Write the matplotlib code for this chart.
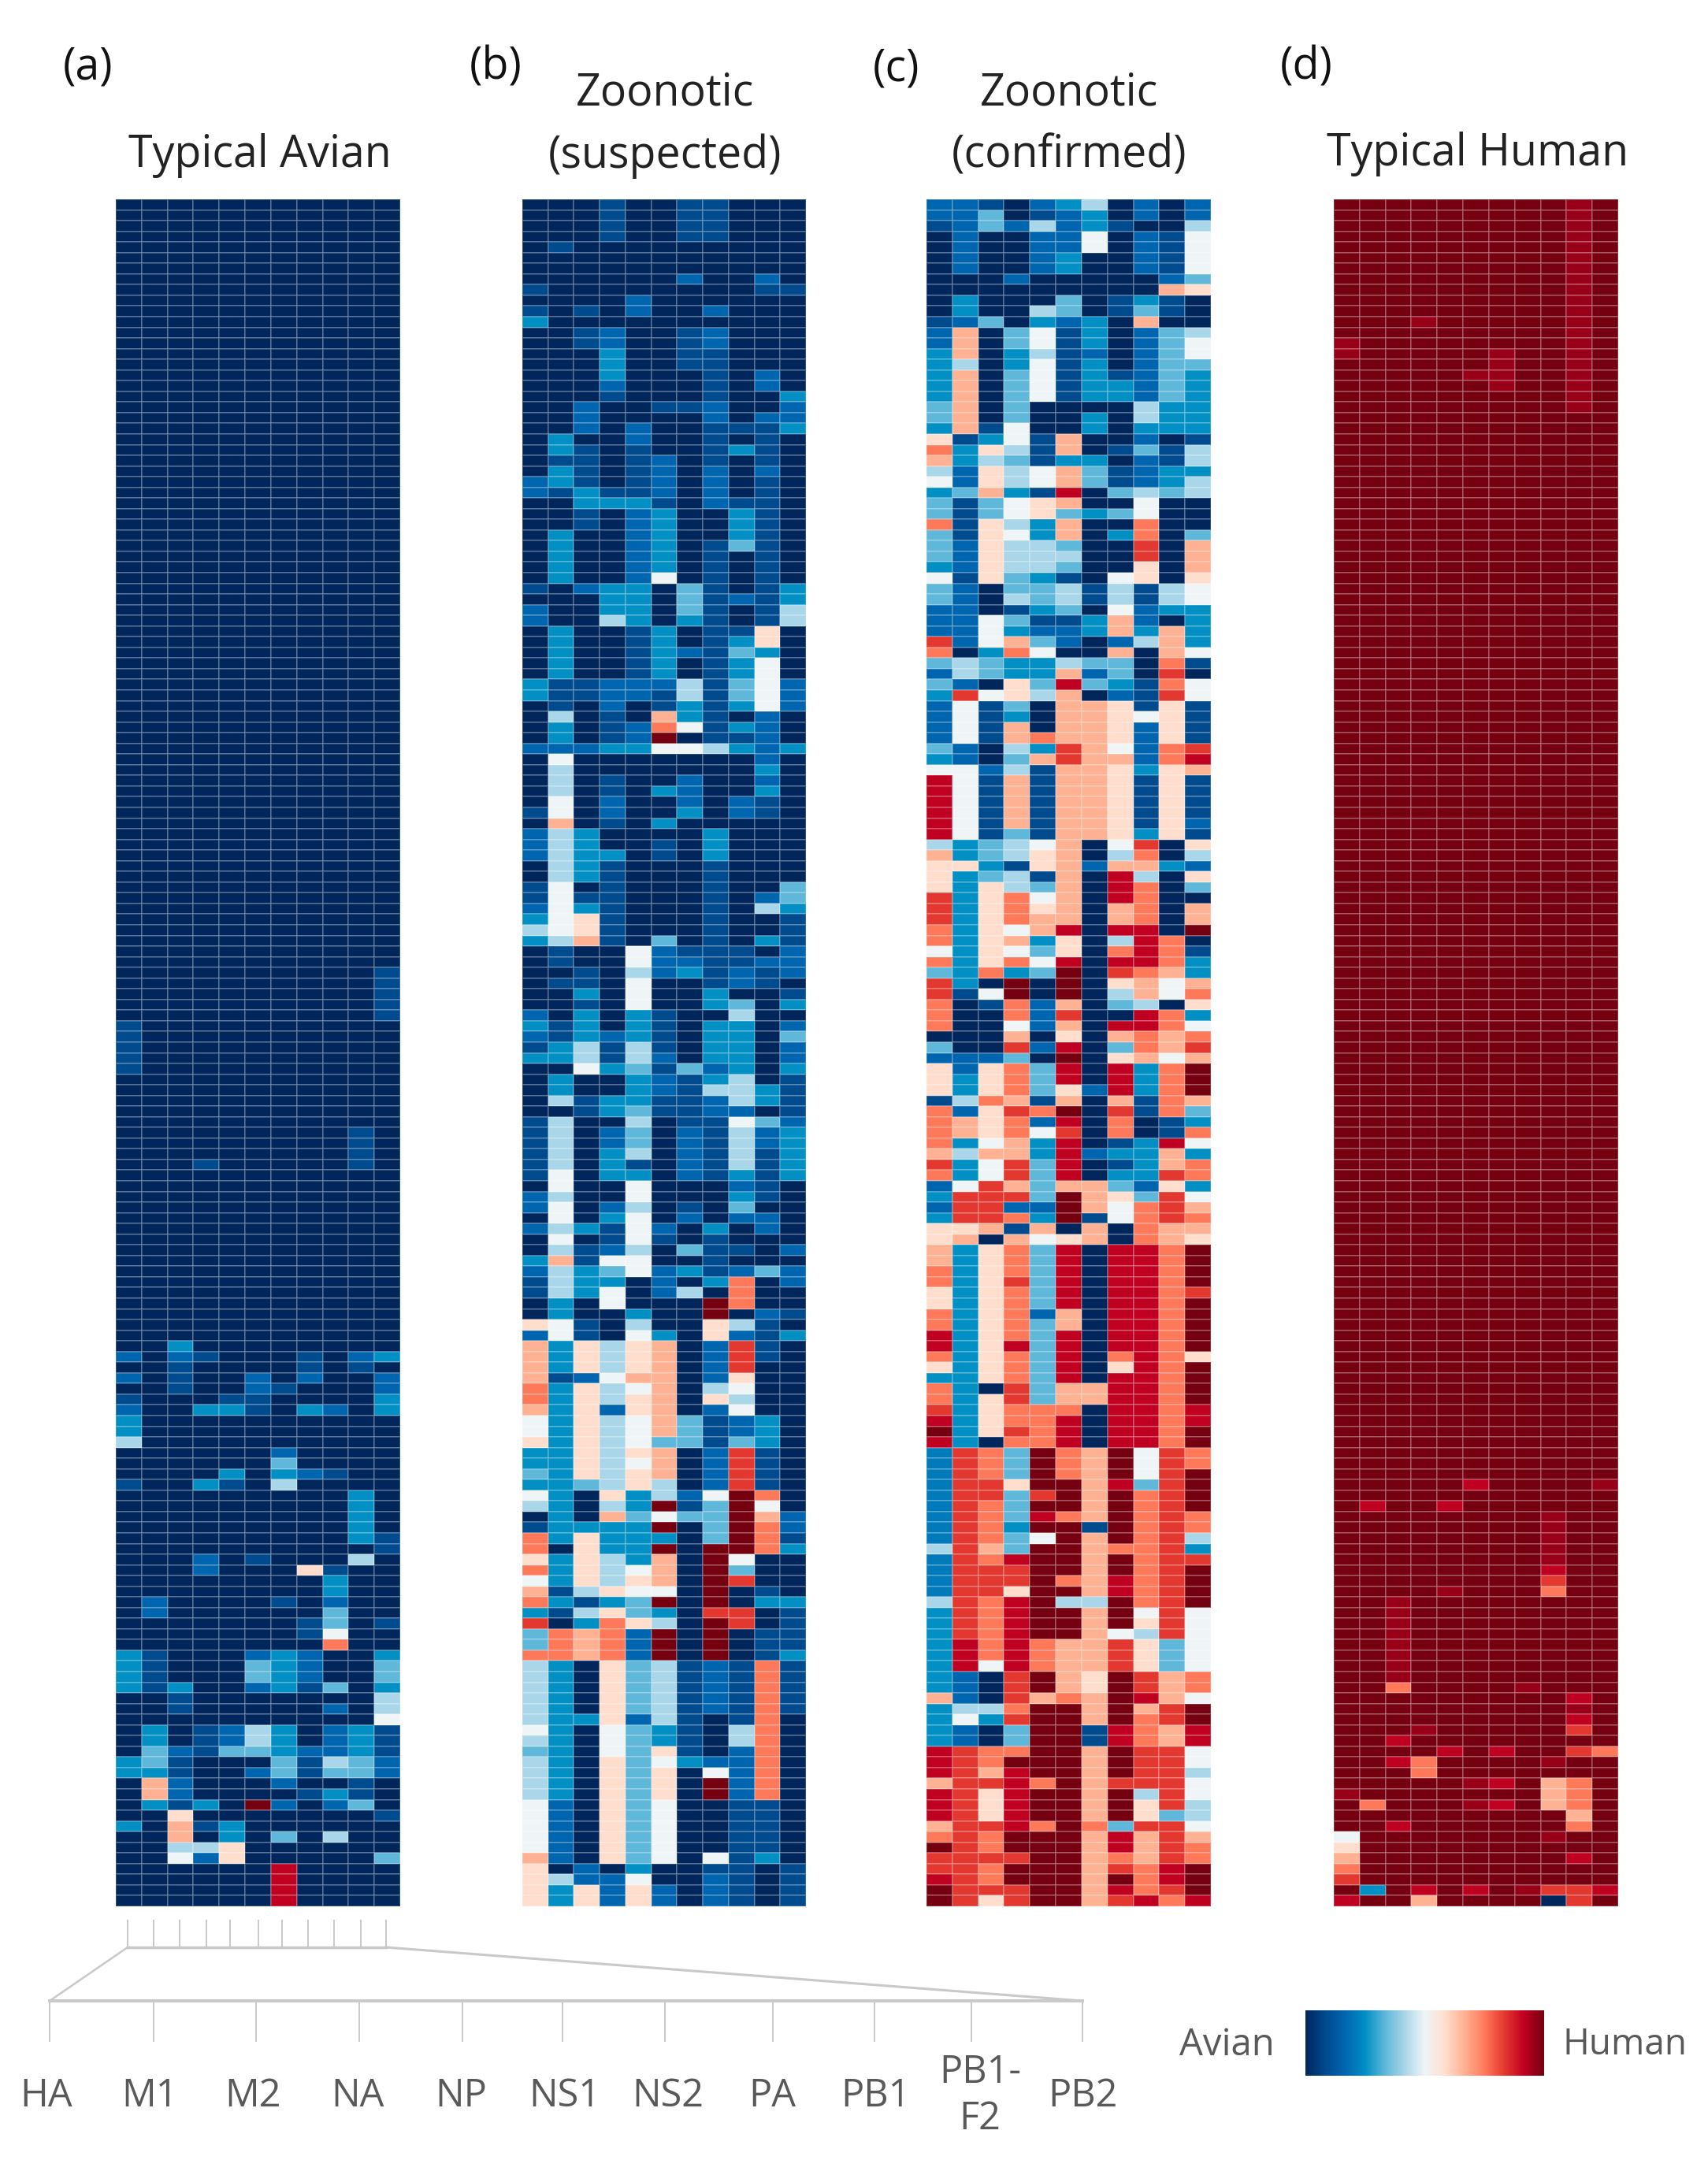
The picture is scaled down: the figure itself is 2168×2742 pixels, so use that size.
import matplotlib
matplotlib.use("Agg")
from matplotlib import pyplot as plt
from matplotlib.cm import ScalarMappable
from matplotlib.colors import LinearSegmentedColormap, Normalize
import numpy as np

plt.rcParams['font.family'] = ['Open Sans', 'DejaVu Sans']

# Levels, 0 = most avian, 12 (C) = most human. b = 11.5.
# Each string is one gene column, top to bottom, as level*rows.
SEGMENTS = ["HA", "M1", "M2", "NA", "NP", "NS1", "NS2", "PA", "PB1", "PB1-\nF2", "PB2"]
N_ROWS = 160

AVIAN = [
    "0*77 1*5 0*26 2 0 2 0 1 2 3*2 5 0*3 1 0*15 3*4 0*6 3*2 0*4 3 0*7",
    "0*131 2*2 0*3 1*4 0*3 3*2 4*2 3 8*2 3 0*9",
    "0*107 3 2 1*3 0*27 3 1*2 0*3 2 1*2 2*2 1 7 8*2 5 6 0*4",
    "0*90 1 0*17 1 0*4 3 0*6 3 0*6 2*2 0*14 1*3 0*4 3 0 1 0 5 2 0*4",
    "0*112 1 3 0*5 3 1 0*22 2*2 4 0*6 3*2 7*2 0*4",
    "0*110 2*2 1*2 0*13 1 0*8 2 4*2 2 0*3 5*2 4 0 2 0*2 C 0*9",
    "0*111 1 0*5 2 4 3 5 0*10 1 0*4 3*4 0*3 3*3 4*2 2 0 2 0*2 4 0*2 B*4",
    "0*108 1*2 2 0*2 3 0*5 2 0*8 7 0*4 1*2 0 2*3 1 0*5 2 1*2 0 1 0*10",
    "0*113 2 0*5 1 0*8 1 3*2 2 4*2 6 9 0*3 4 0 2 0 2*3 5 4 0 3 2 0*2 5 0*6",
    "0*87 1*4 0*17 2 1 0*11 3*5 0 5 0*15 3*3 4*2 1*2 4 0*9",
    "0*72 1*5 0*31 3 0 2*2 3*2 0*11 1*2 0*6 1 0*2 3 4*2 3 5*2 6 1*3 2*2 0*3 1 0*3 4 0*4",
]

SUSPECTED = [
    "0*8 1 0 1 3 0*14 2*2 0*8 1 0 2*2 0*5 3*2 0*4 2 0*5 1 0 2*3 0*2 1*2 2 3 5 3 0*6 2 3 2 1 3 0*5 1*6 0 2*2 0 2 0*2 3 2 1*2 0 "
    "0 7 2 8*4 9*2 8 6*2 7 3*2 4 3 6 5 0 1 9*2 7 9 6 8 9 3 A 4*2 9 5*6 6 5 4 5*4 6*5 8 7*4",
    "0*4 1 0*17 3*2 1 3*2 1 0*3 3*5 0*4 3*5 1*3 5 3*2 2 6 5*3 6*2 8 5*5 6*5 5 1 1 0 1 0*3 1*2 3*2 0 3*2 5 0 5*5 6*2 5 6*2 5 6 5 8 5*3 3 "
    "3 6*2 3*3 1 3*15 0 3*3 1 3 1 0 9*3 3*13 2*6 0 5 3*2",
    "0*10 1 0 1*2 0*5 2*3 0 1*4 3*2 1*2 0*5 2 0*8 1*2 0*4 2 0*7 3*5 0 1 3 7*2 8 0*2 1*2 3 1 3*3 5*2 6 0*2 1*2 0*10 3 0 1*2 3*3 0 "
    "0 1*2 7*3 2 7*9 4 0*3 3 7*5 5 1 5 3 8*3 0*5 3 0*13 2*2 7*2",
    "1*4 0*8 2*2 3*3 2 1 0*8 1 3 0*7 3*3 5 0*5 2*3 1*3 3 0*2 1*2 2*2 1 0*2 3 1*8 0*8 2 1*2 3 0*2 3*2 0 2*2 3*3 0*2 2 3 1*2 2 6 4 3 6*2 "
    "0*3 5*3 6 5*2 2 5*7 7 5 8 3*3 5*3 7 3 7 9*4 7*6 6*3 7*10 0 2*3",
    "0*9 2*2 0*10 2*2 1*5 3 2*7 3*4 1*5 2*2 0*2 2*2 3 0*18 6*2 5 6*3 3*3 5*2 4 3*3 4 5 4*2 5 1 3 6*2 5 6*3 5 6*2 0*3 "
    "3 5 6 7*3 8 6 7*2 6*3 7 6 7*2 3*2 4 3*4 6 7 6 4*2 7 2*3 4*5 2 4*13 3 6 7*2",
    "0*19 1 0*4 2*4 1 3*6 6 0*4 3*5 2 1*2 8 9 C 6 0*3 3 0*2 3 0 1*2 0*7 4 2*3 0*3 1*4 2 1 2*2 1*2 0*10 2 1 0*2 2*3 0 "
    "0*2 3 8*9 4 8*3 5*2 C 6 C 3 C 8*3 6 C 3 5 C*3 5*6 3*2 7 6 7*3 6*6 0*2 2*2",
    "1*4 0*3 2 0*4 1*4 0*3 1 0*16 4*3 3 0*2 2 0*2 5*2 3*2 6 0 6 0*2 2*3 3 0*12 1 2 3 0*8 4 1*4 1 2*5 0*2 1 2 0*2 4 0 3 0 5 0 "
    "0*10 4*3 0*4 2 1 4 0*13 1*9 3 0*13",
    "1*4 0*6 2 0 2*2 1*5 2*2 1*4 2*2 2*2 0*3 1*3 1*16 5 0*7 3*3 1*12 3*2 0 3*4 2 3 5 2*2 1*6 0*4 3 1*3 1 3 0 C "
    "C 7*2 2*3 2 5 7 2 1*3 2*4 6 4*3 4 C*6 A C*4 2*5 0*4 2 6 C*2 0*5 6 1 2*3",
    "0*21 1 0 3 0*4 1 3*2 3 4 0*4 2 0*2 1 3 4 3*2 4*2 3 0 3 1 3 0*4 2*2 0*12 1*2 2*2 0 4 5 3*5 5*3 2 6 5*4 3 2 3 4 2 0*2 1 0 2 9*3 "
    "0 5 2 A*3 7 6 5 6 2*2 4 A*4 C*6 6 4 A 0*2 A*2 0*3 1*6 5*2 2*5 1*10",
    "0*7 2 1 0*7 2*2 0*2 2 1*4 2 1*14 7*2 3 6*4 6 2*3 2 2 3 2 3 1*2 0*7 2 5 0*2 3 0 2 1*2 0*9 3*2 0 4 2*2 1*3 1*2 0 2*2 0*3 4 0*3 "
    "2 1*2 1*2 0*5 3*3 1*4 9 6 8 9*3 0*3 1 3 0*2 1*3 9*13 1*5 3 0*4",
    "0*8 1 0*9 3 2*2 3 0*14 3*2 5*2 0*5 2*3 0*3 3 0*12 4*2 3 1*3 2*3 0 1 3 0 2 4 2*2 3 1*4 2 3*5 0*6 2 0 2*2 0*2 "
    "1 0 3 0*16 2*2 1 3 0*4 3 1*4 3 1*5 0*14 1*4",
]

CONFIRMED = [
    "2*2 1 0*8 1 2*2 3*5 4*2 3 7 9 8 5 6 3 4*2 9 4*3 3 6 4*2 2*3 A 9 4 2 4 3 2*4 4 3 6 B*6 5 8 7*3 A*3 9*2 6 9 4 A*2 9*3 0 4 2 7*3 1 "
    "9*4 8 A 9 2 3 2 3 7*2 8*2 9*2 7*2 9*2 B*2 9 7 3 9*2 A B C B 2.5*9 5 2.5*4 5 3*8 8 3*4 B*3 8 B*3 8 9 C A A B C C",
    "2*7 0*2 3*2 2 8*3 5 8*6 1 3*2 2*2 4 1*4 2*3 1 2*3 2*2 2 0 5*2 2 A 6*4 2*2 6*7 3*2 7 3*11 1 0*5 2*2 3*2 5 2 8*2 3 5 3*2 6 A*3 7 8 "
    "3*19 A*18 B*3 2*3 5 6 2*2 A*15",
    "1 4*2 0*4 0*2 0*2 4 0*4 0*5 1 3 7 5 7*2 8 4*2 7*6 0*3 6*3 3 4*2 0 6 1*4 0*2 2 1*4 1*2 4*2 3 4 7*8 9 0 6 1 0*4 2 7*3 9 7*3 6 8 6*2 "
    "A*4 8 0 7*13 0 7*4 0 9*3 A*2 9*4 8 9 A*3 9 9*5 6 0*3 5 3 0*2 9*2 8 A 7*3 A 9*2 A 9*2 A 7",
    "0*2 2 0*4 2 0 0*3 4*2 3*2 4*3 4 4 6 6 5 4 5*2 3 6*2 5 6 5*3 4*2 5 1 4 3 8 9 3*2 7 7 4 3 8*2 5 4 5 8*4 8 4 5*2 1 5 5 9*3 6 8 6 9 3 "
    "C*2 9*2 6 8 A 4 9*3 8 A 9*2 8*2 A*2 8 A 2 9 1 8 9*3 A 9*5 B 9*3 A*2 9*2 A 9 4*3 7 4*3 3 4*2 B A*2 7 B*7 A*3 9 A 4*2 9 C B*6 C*2 A C*2 A*2",
    "2 1 5 2*4 0*3 5 3 6*2 5 6*4 0*3 1*3 6*2 1 7*2 3*2 5*3 3 4*2 3 1 2 4 6 3*2 4 5 0*3 9 3 8 1*5 1*2 6 7*2 1 4 6 7 8*2 3 4 6 4 0*2 2*3 0 2 0 "
    "4*3 1 9 2 6 3*2 4*4 2 3 8 6 4*6 2 4*8 9*4 C*4 A C B C 6 C*9 9*3 C*2 8 C*7 9 C*3 9 C*7",
    "3 2*4 3*2 0*2 4*2 2 1*7 0*3 8*2 3 8*2 B 8 4 8*2 4 5 4 1 5*2 4 1 2*2 0 5 8 B 8 8*4 A*2 8*15 B 7*2 B C C*2 8 A 8 7 B C B*2 7 8 C B A B*4 8 "
    "C*3 0 7 B*6 8*2 B*5 8*2 9 B*3 9*3 C*3 9 C*5 9 C 5 C*3 8*5 9 C*19",
    "5 3*2 6*2 0*6 3*3 2 3*4 0 3*2 0*2 3 4*2 0*2 3 0*6 1*2 0 3*2 0*2 4 2 4 0 8*13 0*2 2 0*20 2 0*5 2 0*2 8*3 1 8*2 0*13 8*2 0*4 8*7 1 8*6 5 "
    "8*6 7*2 8*3 1*2 8*7 9 8*7",
    "0*2 1 0*6 1*2 0*5 1 3*2 0*4 1 0 1*2 4 0 4 0 3 0*3 6 5*2 6 8*2 2 8 4*2 3 2 7*4 6 8 7*7 6 5 8 B*3 8*2 B 5 9 B A 7 5 4 0 B 8 4 7 B*3 8 A "
    "9*2 1 3 1 3 4 7 6*2 0*2 B*10 9 7 B*7 C*3 B C*5 9 C*2 B*2 C*3 6 A*3 C*5 B*2 C*3 A C*3 4 B*2 9 A C B A",
    "2*2 0 2*4 0*2 3 4 8 2*7 5*2 3 2 4 2*3 5 6*2 9*2 A*2 7*2 1*2 2 2 3 5 0*3 1*3 6 2*4 3 1*5 3 A 9 8 5 9*4 B*4 9 8*2 5 B*2 9*2 8 3*3 1*2 0*2 "
    "3*4 2 4 9*4 B*19 6*3 4 9*11 6 7 5 7*3 A*2 B 8 9*3 A*4 5 7*2 A 8*3 9*3 B",
    "0*3 1*4 2 8 1*2 0 4*7 3*3 0 1*2 3*2 4 0*8 5*2 3 0 8*3 9 A 9 A 7*4 9*2 7*7 0*2 3 0*6 9*3 8 6*2 0 9*2 8*2 6 9*5 1*2 B 8*2 A 7 A*3 8*2 "
    "9*19 A*18 4*3 8*3 A*2 8*2 A*6 4 A*4 B*2 A 9",
    "2*2 5 6*4 4 7 0*3 5 6*2 4 3*6 1 5*2 3 5*2 0*3 4 8*3 7 6*2 3*4 6 1 0 6*2 1*4 A B 8 1*4 2 1 7 5 2 7 4 0 8*2 C 0 1 3*2 8 9 7 3 6 9 A 8 C*3 "
    "8 4 3 9 6 3 9*2 3 6 8 9 8 7 C*4 A C*5 7 C*4 B*2 C*2 9*2 C*4 9*2 5 3 A C*4 6*6 9*2 6 C*2 B*2 6*2 5 6*2 5*2 6 8 9*2 C*3 B",
]

HUMAN = [
    "C*13 b*2 C*134 b C*3 6 7 8 9 A C B",
    "C*122 B C*27 9 C*7 3 C",
    "C*131 b*8 9 C*4 B C B C*5 B C*7",
    "C*11 b C*131 b C*2 9*2 C*10 B 8",
    "C*122 B C*7 b C*14 B C*14",
    "C*16 b C*103 B C*27 b C b C*7 B C",
    "C*14 b*4 C*127 B C*2 B C B C*9",
    "C*139 b C*18 b C",
    "C*123 b*5 B A 9 C*15 b C 8*3 C*2 b C*4 A 0",
    "b*20 C*120 B b B A C A C*2 9*3 8 9 C*2 B C*2 A A",
    "C*120 b C*24 9 C*12 B C",
]

LETTERS = {'A': 10, 'B': 11, 'b': 11.5, 'C': 12}


def column_levels(runs):
    out = []
    for tok in runs.split():
        lev, _, n = tok.partition('*')
        out += [LETTERS.get(lev, lev)] * int(n or 1)
    out = [float(v) for v in out]
    # my row counts can be a row or so off, keep every column the same length
    out = out[:N_ROWS] + [out[-1]] * (N_ROWS - len(out))
    return out


def panel_matrix(columns):
    return np.array([column_levels(c) for c in columns]).T


W, H = 2168, 2742
fig = plt.figure(figsize=(W / 100, H / 100), dpi=100, facecolor='white')

cmap = LinearSegmentedColormap.from_list("avian_human", [
    '#00265c', '#004a8f', '#0066b0', '#008fc4', '#5fb7d9', '#aad6e8', '#eff4f7',
    '#ffdfcf', '#ffb193', '#ff7a5c', '#e4392f', '#c00020', '#750010'])
norm = Normalize(0, 12)


def px_axes(x0, y0, x1, y1):
    return fig.add_axes([x0 / W, 1 - y1 / H, (x1 - x0) / W, (y1 - y0) / H])


panels = [(AVIAN, 147, 508), (SUSPECTED, 663, 1023), (CONFIRMED, 1176, 1537), (HUMAN, 1693, 2054)]
for columns, x0, x1 in panels:
    ax = px_axes(x0, 253, x1, 2420)
    ax.pcolormesh(panel_matrix(columns), cmap=cmap, norm=norm,
                  edgecolors=(1, 1, 1, 0.2), linewidth=1.3)
    ax.invert_yaxis()
    ax.axis('off')

# page sized layer for the text and the bracket, in pixels
page = fig.add_axes([0, 0, 1, 1], zorder=5)
page.set_xlim(0, W)
page.set_ylim(H, 0)
page.axis('off')

for label, x, y in [("(a)", 112, 86), ("(b)", 629, 86), ("(c)", 1138, 88), ("(d)", 1658, 86)]:
    page.text(x, y, label, fontsize=40, ha='center', va='center', color='#111111')

for label, x, y in [("Typical Avian", 330, 198), ("Zoonotic", 844, 119), ("(suspected)", 844, 198),
                    ("Zoonotic", 1357, 119), ("(confirmed)", 1357, 198), ("Typical Human", 1876, 196)]:
    page.text(x, y, label, fontsize=40, ha='center', va='center', color='#222222')

# bracket linking the first panel's columns to the gene labels
line_color = '#c9c9c9'
top_x = [162, 195, 228, 262, 292, 328, 358, 391, 424, 458, 490]
low_x = [63, 195, 325, 456, 587, 714, 844, 981, 1110, 1233, 1374]
label_x = [59, 190, 321, 454, 585, 717, 848, 980, 1111, 1244, 1374]
page.vlines(top_x, 2437, 2472, color=line_color, lw=1.4)
page.plot([top_x[0], top_x[-1]], [2472, 2472], color=line_color, lw=2.5)
page.plot([top_x[0], low_x[0]], [2472, 2540], color=line_color, lw=1.8)
page.plot([top_x[-1], low_x[-1]], [2472, 2540], color=line_color, lw=2.2)
page.plot([low_x[0], low_x[-1]], [2540, 2540], color=line_color, lw=2.8)
page.vlines(low_x, 2540, 2592, color=line_color, lw=1.4)
for name, x in zip(SEGMENTS, label_x):
    page.text(x, 2661, name, fontsize=35, ha='center', va='center',
              color='#595959', linespacing=1.25)

# colour key
cax = px_axes(1657, 2552, 1960, 2635)
cb = fig.colorbar(ScalarMappable(norm=norm, cmap=cmap), cax=cax, orientation='horizontal')
cb.set_ticks([])
cb.outline.set_visible(False)
page.text(1557, 2596, "Avian", fontsize=34, ha='center', va='center', color='#595959')
page.text(2062, 2596, "Human", fontsize=33, ha='center', va='center', color='#595959')

fig.savefig("out.png", dpi=100)
